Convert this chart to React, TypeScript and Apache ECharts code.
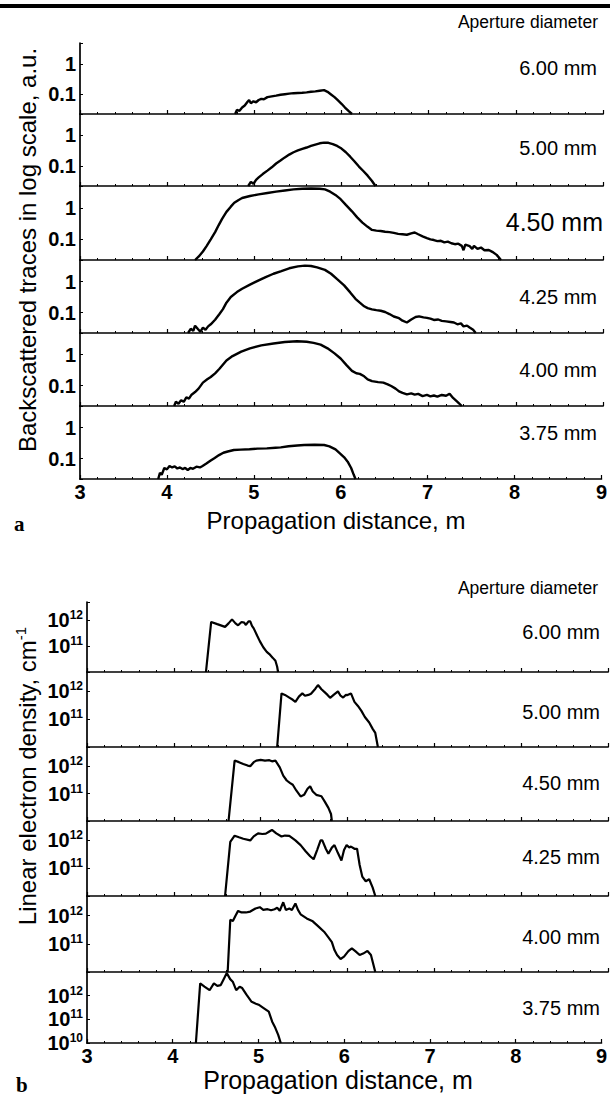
import React, { useEffect, useRef } from "react";
import * as echarts from "echarts";

// ---------- DATA ----------
const xTickValues = [3, 4, 5, 6, 7, 8, 9];
const apertureLabels = ["6.00 mm", "5.00 mm", "4.50 mm", "4.25 mm", "4.00 mm", "3.75 mm"];

// Panel a: backscattered traces (a.u., log scale)
const traceA600 = [[4.78,0.022],[4.8,0.03],[4.83,0.028],[4.86,0.036],[4.89,0.042],[4.92,0.055],[4.94,0.064],[4.96,0.05],[4.99,0.058],[5.02,0.054],[5.05,0.064],[5.08,0.07],[5.11,0.068],[5.15,0.08],[5.2,0.085],[5.25,0.09],[5.3,0.096],[5.35,0.1],[5.4,0.104],[5.45,0.108],[5.5,0.11],[5.55,0.112],[5.6,0.115],[5.65,0.12],[5.7,0.124],[5.75,0.13],[5.8,0.136],[5.84,0.12],[5.88,0.098],[5.92,0.08],[5.96,0.062],[6.0,0.048],[6.04,0.036],[6.08,0.028],[6.12,0.022]];
const traceA500 = [[4.93,0.022],[4.96,0.03],[4.99,0.026],[5.02,0.035],[5.05,0.042],[5.1,0.055],[5.15,0.07],[5.2,0.09],[5.25,0.12],[5.3,0.15],[5.35,0.19],[5.4,0.235],[5.45,0.28],[5.5,0.32],[5.55,0.36],[5.6,0.4],[5.65,0.45],[5.7,0.5],[5.75,0.55],[5.8,0.58],[5.85,0.57],[5.9,0.52],[5.95,0.45],[6.0,0.37],[6.05,0.28],[6.1,0.2],[6.15,0.14],[6.2,0.095],[6.25,0.068],[6.3,0.048],[6.35,0.032],[6.39,0.022]];
const traceA450 = [[4.32,0.022],[4.36,0.028],[4.41,0.041],[4.45,0.06],[4.5,0.1],[4.55,0.17],[4.59,0.28],[4.63,0.45],[4.68,0.75],[4.73,1.1],[4.77,1.47],[4.82,1.8],[4.86,2.07],[4.95,2.4],[5.05,2.7],[5.15,3.0],[5.25,3.3],[5.35,3.6],[5.45,3.9],[5.55,4.1],[5.65,4.15],[5.75,4.1],[5.81,3.9],[5.87,3.3],[5.93,2.6],[5.99,1.9],[6.05,1.25],[6.12,0.78],[6.18,0.5],[6.24,0.34],[6.3,0.25],[6.35,0.2],[6.4,0.19],[6.45,0.185],[6.5,0.175],[6.55,0.17],[6.6,0.16],[6.65,0.15],[6.7,0.145],[6.75,0.14],[6.8,0.155],[6.84,0.165],[6.88,0.145],[6.93,0.125],[6.98,0.11],[7.02,0.1],[7.06,0.095],[7.1,0.088],[7.14,0.09],[7.18,0.08],[7.22,0.085],[7.26,0.075],[7.3,0.07],[7.34,0.073],[7.38,0.062],[7.4,0.045],[7.42,0.068],[7.47,0.061],[7.5,0.05],[7.52,0.062],[7.56,0.05],[7.6,0.055],[7.64,0.045],[7.69,0.046],[7.73,0.04],[7.78,0.032],[7.83,0.022]];
const traceA425 = [[4.24,0.022],[4.27,0.03],[4.3,0.026],[4.32,0.038],[4.35,0.03],[4.38,0.024],[4.41,0.033],[4.44,0.028],[4.47,0.036],[4.5,0.042],[4.55,0.059],[4.6,0.09],[4.64,0.13],[4.68,0.21],[4.73,0.32],[4.8,0.46],[4.86,0.59],[4.95,0.8],[5.05,1.1],[5.13,1.4],[5.22,1.8],[5.31,2.2],[5.4,2.7],[5.5,3.1],[5.58,3.3],[5.65,3.2],[5.72,2.9],[5.81,2.4],[5.88,1.8],[5.95,1.2],[6.03,0.76],[6.1,0.45],[6.16,0.28],[6.21,0.21],[6.26,0.16],[6.3,0.14],[6.35,0.128],[6.4,0.12],[6.45,0.115],[6.5,0.105],[6.55,0.09],[6.6,0.075],[6.66,0.066],[6.7,0.055],[6.75,0.048],[6.8,0.06],[6.85,0.072],[6.89,0.076],[6.94,0.07],[6.98,0.068],[7.02,0.064],[7.06,0.058],[7.11,0.06],[7.15,0.054],[7.2,0.052],[7.25,0.05],[7.29,0.048],[7.33,0.042],[7.37,0.045],[7.4,0.036],[7.44,0.038],[7.47,0.033],[7.51,0.028],[7.54,0.022]];
const traceA400 = [[4.08,0.022],[4.1,0.03],[4.13,0.026],[4.16,0.034],[4.19,0.03],[4.22,0.042],[4.25,0.038],[4.28,0.051],[4.32,0.062],[4.36,0.08],[4.41,0.125],[4.46,0.16],[4.5,0.19],[4.55,0.25],[4.6,0.35],[4.68,0.65],[4.75,0.9],[4.85,1.25],[4.95,1.6],[5.08,2.0],[5.22,2.3],[5.35,2.55],[5.49,2.7],[5.6,2.6],[5.68,2.4],[5.76,2.1],[5.84,1.6],[5.92,1.1],[5.99,0.75],[6.06,0.45],[6.12,0.3],[6.17,0.25],[6.21,0.24],[6.26,0.2],[6.3,0.16],[6.35,0.14],[6.42,0.13],[6.48,0.125],[6.53,0.11],[6.57,0.097],[6.62,0.08],[6.66,0.065],[6.7,0.058],[6.75,0.052],[6.8,0.056],[6.84,0.051],[6.88,0.054],[6.93,0.046],[6.98,0.05],[7.02,0.045],[7.06,0.048],[7.1,0.044],[7.15,0.05],[7.2,0.047],[7.24,0.055],[7.28,0.04],[7.33,0.03],[7.38,0.022]];
const traceA375 = [[3.9,0.022],[3.92,0.035],[3.94,0.03],[3.97,0.05],[4.0,0.045],[4.03,0.058],[4.06,0.052],[4.09,0.056],[4.12,0.048],[4.15,0.052],[4.18,0.046],[4.21,0.05],[4.24,0.043],[4.27,0.05],[4.3,0.047],[4.34,0.055],[4.38,0.052],[4.41,0.058],[4.45,0.068],[4.5,0.085],[4.55,0.105],[4.6,0.13],[4.65,0.155],[4.7,0.17],[4.77,0.19],[4.85,0.195],[4.95,0.2],[5.04,0.21],[5.15,0.215],[5.25,0.225],[5.31,0.23],[5.4,0.25],[5.5,0.265],[5.58,0.275],[5.7,0.28],[5.81,0.275],[5.87,0.25],[5.94,0.2],[6.0,0.14],[6.04,0.11],[6.08,0.08],[6.12,0.05],[6.15,0.03],[6.17,0.022]];

// Panel b: linear electron density (cm^-1, log scale)
const densB600 = [[4.37,1e10],[4.43,8.5e11],[4.5,7e11],[4.59,5.5e11],[4.63,7.5e11],[4.67,1.07e12],[4.71,7.5e11],[4.74,6.3e11],[4.78,8.5e11],[4.81,8e11],[4.83,6.5e11],[4.86,9e11],[4.88,8.9e11],[4.9,6e11],[4.92,4.8e11],[4.96,2.5e11],[4.99,1.55e11],[5.03,9e10],[5.07,6e10],[5.1,4.9e10],[5.14,3.5e10],[5.17,2.7e10],[5.19,1.6e10],[5.2,1e10]];
const densB500 = [[5.19,1e10],[5.24,8.5e11],[5.28,7.5e11],[5.33,6e11],[5.37,5e11],[5.4,4.2e11],[5.44,6.5e11],[5.48,8.5e11],[5.51,7e11],[5.55,7.5e11],[5.58,8.3e11],[5.6,9.8e11],[5.63,1.25e12],[5.66,1.7e12],[5.7,1.2e12],[5.73,9.8e11],[5.77,7.5e11],[5.8,5.9e11],[5.84,7.5e11],[5.89,1e12],[5.92,7e11],[5.95,6e11],[5.98,7.5e11],[6.0,7.4e11],[6.04,8.5e11],[6.08,4.2e11],[6.12,3e11],[6.16,2e11],[6.2,1.2e11],[6.25,7.6e10],[6.29,4.5e10],[6.32,3.2e10],[6.35,1e10]];
const densB450 = [[4.63,1e10],[4.7,1.6e12],[4.75,1.4e12],[4.8,1.2e12],[4.85,1.05e12],[4.88,1e12],[4.92,1.4e12],[4.95,1.6e12],[5.0,1.7e12],[5.05,1.6e12],[5.1,1.65e12],[5.13,1.5e12],[5.17,1.6e12],[5.22,9e11],[5.26,4.5e11],[5.3,3e11],[5.34,2.4e11],[5.37,2.1e11],[5.41,1.3e11],[5.46,7.9e10],[5.5,9e10],[5.54,1.5e11],[5.57,1.85e11],[5.6,1.2e11],[5.64,9e10],[5.7,8e10],[5.74,5e10],[5.78,3e10],[5.81,1.8e10],[5.82,1e10]];
const densB425 = [[4.59,1e10],[4.65,8.9e11],[4.7,1.48e12],[4.75,1.3e12],[4.8,1.15e12],[4.88,1e12],[4.92,1.4e12],[4.97,1.8e12],[5.02,1.7e12],[5.06,1.75e12],[5.1,2.1e12],[5.13,2.4e12],[5.18,1.8e12],[5.24,1.38e12],[5.28,1.5e12],[5.33,1.45e12],[5.4,1e12],[5.46,6.8e11],[5.52,4e11],[5.57,2.7e11],[5.61,2.1e11],[5.65,4.5e11],[5.69,1e12],[5.71,1e12],[5.75,5e11],[5.78,3.3e11],[5.82,5.5e11],[5.85,6.8e11],[5.89,3.5e11],[5.93,1.9e11],[5.96,4.5e11],[5.99,6.8e11],[6.02,5.6e11],[6.04,6e11],[6.08,5e11],[6.11,5e11],[6.14,1.3e11],[6.17,5e10],[6.21,3.4e10],[6.25,4e10],[6.29,2e10],[6.32,1e10]];
const densB400 = [[4.62,1e10],[4.65,7.2e11],[4.68,6.5e11],[4.71,1e12],[4.74,1.48e12],[4.78,1.3e12],[4.83,1.3e12],[4.88,1.4e12],[4.94,1.8e12],[4.99,2e12],[5.03,1.6e12],[5.08,1.7e12],[5.12,1.55e12],[5.16,1.7e12],[5.19,1.9e12],[5.22,1.5e12],[5.26,3e12],[5.29,1.6e12],[5.33,1.8e12],[5.36,1.6e12],[5.4,2.7e12],[5.43,1.6e12],[5.46,1.12e12],[5.53,8e11],[5.6,6.3e11],[5.67,4e11],[5.73,2.7e11],[5.78,1.7e11],[5.82,1.15e11],[5.85,6e10],[5.88,4e10],[5.92,2.9e10],[5.96,3.5e10],[6.01,5.5e10],[6.05,6.9e10],[6.09,5.5e10],[6.14,4e10],[6.18,4.5e10],[6.23,5.6e10],[6.27,4e10],[6.32,1e10]];
const densB375 = [[4.27,1e10],[4.32,3.3e12],[4.37,2.4e12],[4.43,1.7e12],[4.48,3.3e12],[4.52,2.6e12],[4.56,2.8e12],[4.6,5.5e12],[4.63,9e12],[4.67,5e12],[4.7,3.9e12],[4.74,1.7e12],[4.78,2.4e12],[4.81,2.1e12],[4.86,1.1e12],[4.92,5.5e11],[4.97,4.6e11],[5.01,4e11],[5.06,3e11],[5.12,2.1e11],[5.16,8e10],[5.19,4.9e10],[5.23,2.2e10],[5.26,1e10]];

const tracesA = [traceA600, traceA500, traceA450, traceA425, traceA400, traceA375];
const densitiesB = [densB600, densB500, densB450, densB425, densB400, densB375];

// ---------- LAYOUT ----------
const FONT = "Liberation Sans, Arial, sans-serif";
const panelA = { left: 80, right: 7, bounds: [43, 114, 186, 260, 333, 406, 479], yMin: 0.022, yMax: 5, lastYMax: 5 };
const panelB = { left: 87, right: 2, bounds: [602, 672, 747, 821, 896, 972, 1043], yMin: 1e10, yMax: 5e12, lastYMax: 1e13 };
const labelYA = [68, 148, 222, 297, 370, 433];
const labelYB = [632, 712, 783, 857, 937, 1008];

function buildOption() {
  const grid: any[] = [];
  const xAxis: any[] = [];
  const yAxis: any[] = [];
  const series: any[] = [];
  const panels = [
    { p: panelA, data: tracesA, kind: "a" },
    { p: panelB, data: densitiesB, kind: "b" },
  ];
  panels.forEach(({ p, data, kind }) => {
    for (let i = 0; i < 6; i++) {
      const idx = grid.length;
      const isLast = i === 5;
      grid.push({ left: p.left, right: p.right, top: p.bounds[i], height: p.bounds[i + 1] - p.bounds[i] });
      xAxis.push({
        gridIndex: idx, type: "value", min: 3, max: 9, interval: 1,
        axisLine: { show: true, onZero: false, lineStyle: { color: "#000", width: 1.7 } },
        axisTick: { show: true, inside: true, length: 4, lineStyle: { color: "#000", width: 1.2 } },
        minorTick: { show: true, splitNumber: 5, length: 2, lineStyle: { color: "#000", width: 1 } },
        splitLine: { show: false },
        axisLabel: {
          show: isLast, color: "#000", fontFamily: FONT, fontWeight: "bold", fontSize: 20, margin: 3,
          formatter: (v: number) => (xTickValues.includes(v) ? String(v) : ""),
        },
      });
      const yMax = isLast ? p.lastYMax : p.yMax;
      const maxExp = Math.log10(yMax);
      yAxis.push({
        gridIndex: idx, type: "log", logBase: 10, min: p.yMin, max: yMax,
        axisLine: { show: true, lineStyle: { color: "#000", width: 1.7 } },
        axisTick: { show: true, inside: true, length: 3, lineStyle: { color: "#000", width: 1 } },
        splitLine: { show: false },
        axisLabel: {
          color: "#000", fontFamily: FONT, fontWeight: "bold", fontSize: 20, margin: 4,
          formatter: (v: number) => {
            const e = Math.log10(v);
            const r = Math.round(e);
            if (Math.abs(e - r) > 1e-6) return "";
            if (Math.abs(e - maxExp) < 1e-6) return "";
            if (kind === "a") return String(Number(v.toPrecision(6)));
            if (r === 10 && !isLast) return "";
            return `{b|10}{s|${r}}`;
          },
          rich: {
            b: { fontFamily: FONT, fontWeight: "bold", fontSize: 20, lineHeight: 22, color: "#000" },
            s: { fontFamily: FONT, fontWeight: "bold", fontSize: 12, lineHeight: 12, verticalAlign: "top", color: "#000" },
          },
        },
      });
      series.push({
        type: "line", xAxisIndex: idx, yAxisIndex: idx, data: data[i],
        showSymbol: false, symbol: "none", silent: true,
        lineStyle: { color: "#000", width: kind === "a" ? 2.4 : 2.2 },
      });
    }
  });

  const txt = (x: number, y: number, text: string, extra: any = {}) => ({
    type: "text", x, y, silent: true,
    style: {
      text, fill: "#000", fontFamily: FONT, fontSize: 17.5,
      align: "right", verticalAlign: "middle", textAlign: "right", textVerticalAlign: "middle",
      ...extra,
    },
  });

  const graphic: any[] = [
    { type: "rect", shape: { x: 0, y: 4, width: 610, height: 4 }, style: { fill: "#000" }, silent: true },
    txt(598, 22, "Aperture diameter"),
    txt(598, 588, "Aperture diameter"),
  ];
  apertureLabels.forEach((lab, i) => {
    graphic.push(txt(i === 2 ? 603 : 597, labelYA[i], lab, i === 2 ? { fontSize: 25 } : { fontSize: 20 }));
    graphic.push(txt(600, labelYB[i], lab, { fontSize: 20 }));
  });
  // axis titles
  graphic.push(txt(336, 520, "Propagation distance, m", { fontSize: 24, align: "center", textAlign: "center" }));
  graphic.push(txt(338, 1080, "Propagation distance, m", { fontSize: 25, align: "center", textAlign: "center" }));
  graphic.push({
    type: "text", x: 27, y: 250, rotation: Math.PI / 2, silent: true,
    style: { text: "Backscattered traces in log scale, a.u.", fill: "#000", fontFamily: FONT, fontSize: 24,
      align: "center", verticalAlign: "middle", textAlign: "center", textVerticalAlign: "middle" },
  });
  graphic.push({
    type: "text", x: 27, y: 776, rotation: Math.PI / 2, silent: true,
    style: {
      text: "{m|Linear electron density, cm}{s|-1}", fill: "#000",
      align: "center", verticalAlign: "middle", textAlign: "center", textVerticalAlign: "middle",
      rich: {
        m: { fontFamily: FONT, fontSize: 24, lineHeight: 28, fill: "#000", color: "#000" },
        s: { fontFamily: FONT, fontSize: 15, lineHeight: 15, verticalAlign: "top", fill: "#000", color: "#000" },
      },
    },
  });
  // panel letters
  graphic.push(txt(14, 524, "a", { fontFamily: "Liberation Serif, serif", fontWeight: "bold", fontSize: 21, align: "left", textAlign: "left" }));
  graphic.push(txt(16, 1085, "b", { fontFamily: "Liberation Serif, serif", fontWeight: "bold", fontSize: 21, align: "left", textAlign: "left" }));

  return { animation: false, backgroundColor: "#fff", grid, xAxis, yAxis, series, graphic };
}

export default function App() {
  const ref = useRef<HTMLDivElement>(null);
  useEffect(() => {
    document.body.style.margin = "0";
    if (!ref.current) return;
    const chart = echarts.init(ref.current, null, { renderer: "svg" });
    chart.setOption(buildOption() as any);
    return () => chart.dispose();
  }, []);
  return <div ref={ref} style={{ width: 610, height: 1097 }} />;
}
